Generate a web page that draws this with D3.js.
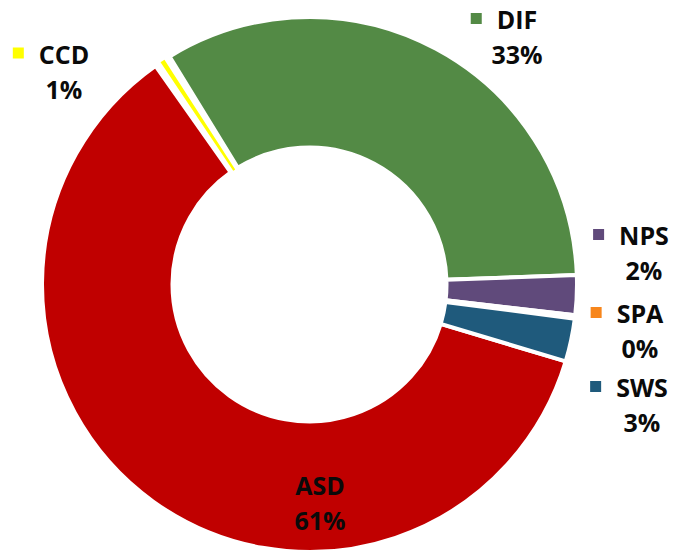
<!DOCTYPE html>
<html><head><meta charset="utf-8">
<script src="https://cdn.jsdelivr.net/npm/d3@7"></script>
<style>html,body{margin:0;padding:0;background:#fff;} svg{display:block;}</style>
</head><body><svg id="chart" width="675" height="552"></svg>
<script>
// ---- data ----
const categories = ["ASD", "CCD", "DIF", "NPS", "SPA", "SWS"];
const values = [60.6, 1.0, 33.2, 2.4, 0.2, 2.6];
const colors = ["#C00000", "#FFFF00", "#538A45", "#604A7B", "#F7861C", "#1F5A7C"];

// ---- layout ----
const W = 675, H = 552;
const cx = 309.5, cy = 284.5, outerR = 267.5, innerR = 137;
const firstSliceDeg = 106.7;
const labelPos = {           // [center x, name baseline]
  ASD: [320, 495], CCD: [64, 63.5], DIF: [517, 29],
  NPS: [644, 245], SPA: [640, 323], SWS: [642, 397]
};
const lineGap = 35;
const thinInsetDeg = {CCD: 1.3};

const svg = d3.select("#chart");
const data = categories.map((c, i) => ({name: c, value: values[i], color: colors[i]}));
const total = d3.sum(values);
const rad = Math.PI / 180;

const pie = d3.pie().sort(null).value(d => d.value)
  .startAngle(firstSliceDeg * rad).endAngle((firstSliceDeg + 360) * rad);
const arcs = pie(data);
const arc = d3.arc().innerRadius(innerR).outerRadius(outerR);

const g = svg.append("g").attr("transform", `translate(${cx},${cy})`);
const normal = arcs.filter(a => !thinInsetDeg[a.data.name]);
const thin = arcs.filter(a => thinInsetDeg[a.data.name]);

g.selectAll("path.slice").data(normal).join("path")
  .attr("class", "slice")
  .attr("d", arc)
  .attr("fill", d => d.data.color)
  .attr("stroke", "#fff").attr("stroke-width", 4).attr("stroke-linejoin", "miter");

g.selectAll("path.thin").data(thin).join("path")
  .attr("class", "thin")
  .attr("d", d => {
    const k = thinInsetDeg[d.data.name] * rad;
    return arc({startAngle: d.startAngle + k, endAngle: d.endAngle - k});
  })
  .attr("fill", d => d.data.color);

// ---- labels ----
const font = "'Open Sans', 'DejaVu Sans', sans-serif";
const lab = svg.append("g").attr("font-family", font).attr("font-weight", 700)
  .attr("font-size", 25).attr("fill", "#0a0a0a");

arcs.forEach(a => {
  const [x, y] = labelPos[a.data.name];
  const t = lab.append("text").attr("x", x).attr("y", y)
    .attr("text-anchor", "middle").text(a.data.name);
  const w = t.node().getComputedTextLength();
  lab.append("rect")
    .attr("x", x - w / 2 - 15 - 11).attr("y", y - 16)
    .attr("width", 11).attr("height", 11)
    .attr("fill", a.data.color);
  lab.append("text").attr("x", x).attr("y", y + lineGap)
    .attr("text-anchor", "middle")
    .text(Math.round(a.data.value / total * 100) + "%");
});
</script>
</body></html>
